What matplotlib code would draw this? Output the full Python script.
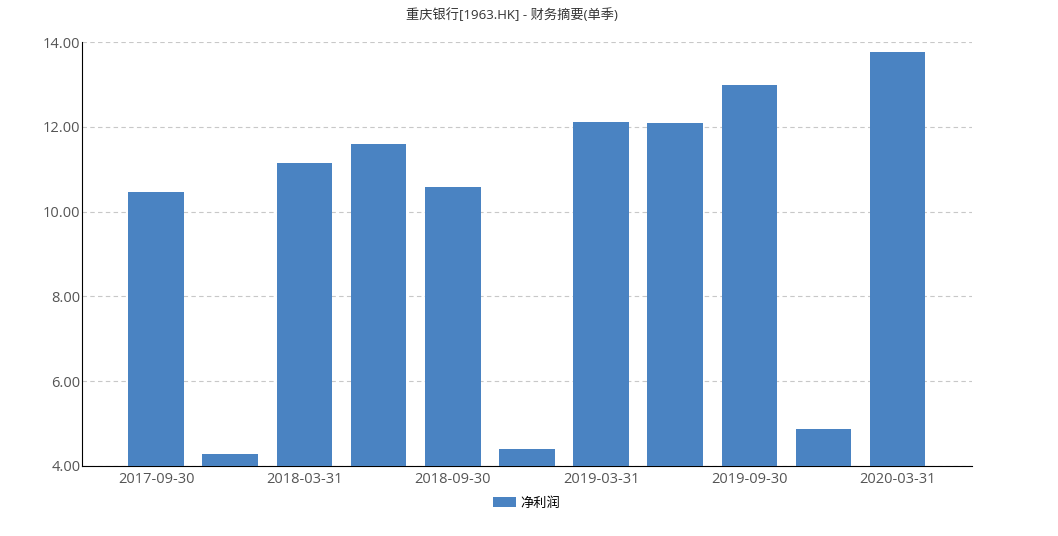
import matplotlib.pyplot as plt
import numpy as np

plt.rcParams['font.family'] = ['Open Sans', 'Noto Sans CJK SC', 'DejaVu Sans']

dates = ['2017-09-30', '2017-12-31', '2018-03-31', '2018-06-30', '2018-09-30',
         '2018-12-31', '2019-03-31', '2019-06-30', '2019-09-30', '2019-12-31',
         '2020-03-31']
net_profit = [10.46, 4.28, 11.15, 11.59, 10.58, 4.40, 12.11, 12.09, 12.99, 4.87, 13.76]

fig = plt.figure(figsize=(10.58, 5.36), dpi=100)
ax = fig.add_axes([0.0775, 0.1306, 0.841, 0.791])

x = np.arange(len(dates))
ax.bar(x, np.array(net_profit) - 4, bottom=4, width=0.75, color='#4a83c2', label='净利润', zorder=3)

ax.set_ylim(4, 14)
ax.set_xlim(-1, len(dates))
ax.set_yticks(np.arange(4, 15, 2))
ax.set_yticklabels(['%.2f' % v for v in np.arange(4, 15, 2)])
ax.set_xticks(x[::2])
ax.set_xticklabels(dates[::2])
ax.yaxis.grid(True, linestyle=(0, (4, 3)), color='#c8c8c8', linewidth=0.8, zorder=0)
ax.tick_params(axis='both', length=0, labelsize=10.5, labelcolor='#555555', pad=4)
ax.tick_params(axis='y', pad=1)

for s in ['top', 'right']:
    ax.spines[s].set_visible(False)
ax.spines['left'].set_color('black')
ax.spines['bottom'].set_color('black')

fig.text(512 / 1058, 1 - 15 / 536, '重庆银行[1963.HK] - 财务摘要(单季)', fontsize=9.5,
         color='#333333', ha='center', va='center',
         family=['Open Sans', 'Noto Sans CJK SC'])
ax.legend(loc='center', bbox_to_anchor=(0.5, -0.088), frameon=False, fontsize=9.5,
          handlelength=1.7, handleheight=0.75, handletextpad=0.4)

fig.savefig('out.png', dpi=100)
